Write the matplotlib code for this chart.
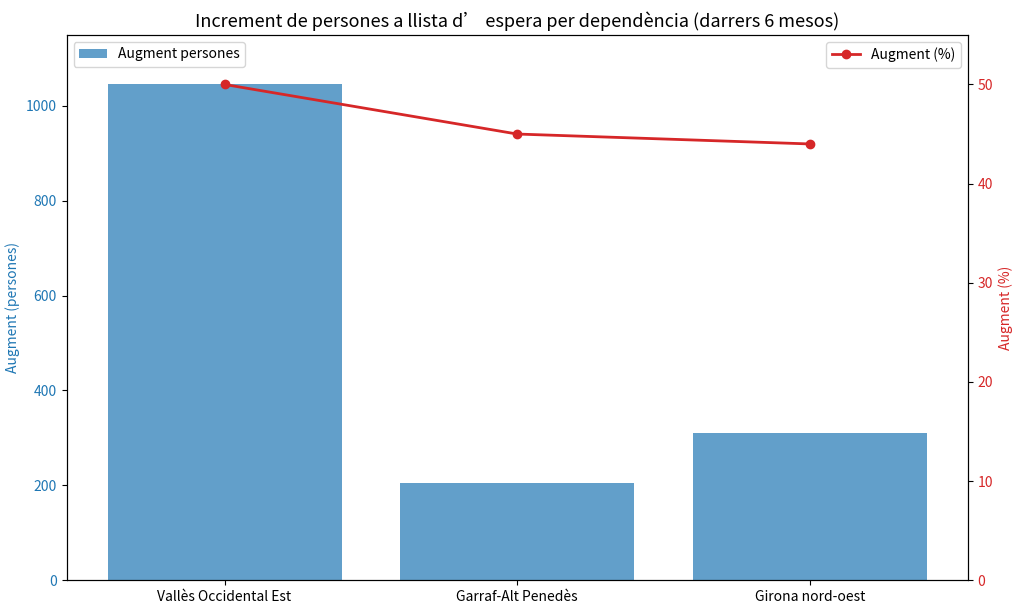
import matplotlib.pyplot as plt
import numpy as np

plt.rcParams['font.family'] = ['Noto Sans CJK SC', 'DejaVu Sans']

regions = ["Vallès Occidental Est", "Garraf-Alt Penedès", "Girona nord-oest"]
augment_persones = [1045, 205, 310]
augment_pct = [50, 45, 44]

fig, ax1 = plt.subplots(figsize=(10.24, 6.12), dpi=100)
x = np.arange(len(regions))

ax1.bar(x, augment_persones, color='tab:blue', alpha=0.7, width=0.8, label='Augment persones')
ax1.set_ylabel('Augment (persones)', color='tab:blue')
ax1.tick_params(axis='y', labelcolor='tab:blue')
ax1.set_ylim(0, max(augment_persones) * 1.1)
ax1.set_xticks(x)
ax1.set_xticklabels(regions)

ax2 = ax1.twinx()
ax2.plot(x, augment_pct, color='tab:red', marker='o', linewidth=2, label='Augment (%)')
ax2.set_ylabel('Augment (%)', color='tab:red')
ax2.tick_params(axis='y', labelcolor='tab:red')
ax2.set_ylim(0, max(augment_pct) * 1.1)

ax1.legend(loc='upper left')
ax2.legend(loc='upper right')
plt.title('Increment de persones a llista d’ espera per dependència (darrers 6 mesos)', fontsize=13)

fig.subplots_adjust(left=0.065, right=0.945, top=0.943, bottom=0.052)
fig.savefig('out.png')
